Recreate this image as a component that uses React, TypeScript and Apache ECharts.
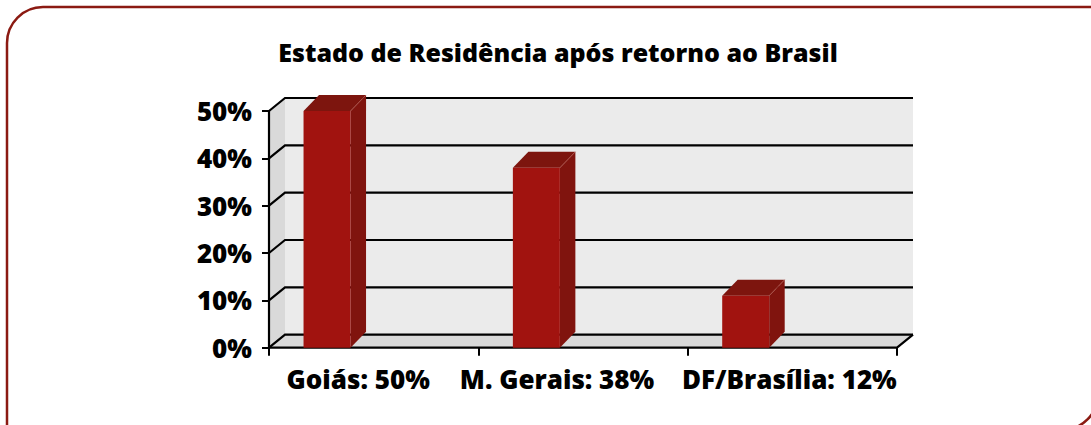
import React, { useEffect, useRef } from "react";
import * as echarts from "echarts";

const titleText = "Estado de Residência após retorno ao Brasil";
const categories = ["Goiás: 50%", "M. Gerais: 38%", "DF/Brasília: 12%"];
const values = [50, 38, 11];
const yTicks = [0, 10, 20, 30, 40, 50];

const FONT = "'Open Sans', 'Noto Sans', sans-serif";

export default function App() {
  const ref = useRef<HTMLDivElement>(null);
  useEffect(() => {
    if (!ref.current) return;
    const chart = echarts.init(ref.current, null, { renderer: "svg" });
    const WDX = 16, WDY = -13;
    const BDX = 15.5, BDY = -16;
    const labelStyle = { fontFamily: FONT, fontWeight: 800, fontSize: 26, color: "#000" };
    const option: any = {
      animation: false,
      backgroundColor: "#ffffff",
      title: {
        text: titleText,
        left: 553,
        top: 34,
        textAlign: "center",
        textStyle: { fontFamily: FONT, fontWeight: 800, fontSize: 25, color: "#000" },
      },
      graphic: [
        {
          type: "rect",
          silent: true,
          shape: { x: 7, y: 7, width: 1091, height: 423, r: [36, 0, 36, 0] },
          style: { fill: "none", stroke: "#8b1a12", lineWidth: 2.5 },
          z: 100,
        },
      ],
      grid: { left: 269, top: 111, right: 194, bottom: 77.3, containLabel: false },
      xAxis: {
        type: "category",
        data: categories,
        axisLine: { show: false },
        axisTick: { show: true, length: 8, lineStyle: { color: "#000", width: 2 } },
        axisLabel: {
          interval: 0,
          hideOverlap: false,
          margin: 18,
          verticalAlign: "top",
          ...labelStyle,
          formatter: (val: string, idx: number) => `{c${idx}|${val}}`,
          rich: {
            c0: { ...labelStyle, padding: [0, 31, 0, 0] },
            c1: { ...labelStyle, padding: [0, 52, 0, 0] },
            c2: { ...labelStyle, padding: [0, 6, 0, 0] },
          },
        },
        splitLine: { show: false },
      },
      yAxis: {
        type: "value",
        min: 0,
        max: 50,
        interval: 10,
        axisLine: { show: false },
        axisTick: { show: true, length: 7, lineStyle: { color: "#000", width: 2 } },
        axisLabel: {
          margin: 17,
          formatter: "{value}%",
          ...labelStyle,
        },
        splitLine: { show: false },
      },
      series: [
        {
          type: "custom",
          z: 1,
          silent: true,
          data: [[0, 0]],
          encode: { x: 0, y: 1 },
          renderItem: (params: any, api: any) => {
            const cs = params.coordSys;
            const x0 = cs.x, y0 = cs.y, w = cs.width, h = cs.height;
            const yB = y0 + h;
            const children: any[] = [
              {
                type: "polygon",
                shape: { points: [[x0, y0], [x0 + WDX, y0 + WDY], [x0 + WDX, yB + WDY], [x0, yB]] },
                style: { fill: "#d9d9d9" },
              },
              {
                type: "rect",
                shape: { x: x0 + WDX, y: y0 + WDY, width: w, height: h },
                style: { fill: "#ebebeb" },
              },
              {
                type: "polygon",
                shape: { points: [[x0, yB], [x0 + WDX, yB + WDY], [x0 + w + WDX, yB + WDY], [x0 + w, yB]] },
                style: { fill: "#d9d9d9" },
              },
            ];
            yTicks.forEach((v) => {
              const y = api.coord([0, v])[1];
              children.push({
                type: "polyline",
                shape: { points: [[x0, y], [x0 + WDX, y + WDY], [x0 + w + WDX, y + WDY]] },
                style: { stroke: "#000", lineWidth: 2.2, fill: "none" },
              });
            });
            children.push({
              type: "line",
              shape: { x1: x0, y1: y0 - 1, x2: x0, y2: yB + 1 },
              style: { stroke: "#000", lineWidth: 2.2 },
            });
            children.push({
              type: "polyline",
              shape: { points: [[x0 - 1, yB], [x0 + w, yB], [x0 + w + WDX, yB + WDY]] },
              style: { stroke: "#000", lineWidth: 2.2, fill: "none" },
            });
            return { type: "group", children };
          },
        },
        {
          type: "custom",
          z: 2,
          silent: true,
          data: values.map((v, i) => [i, v]),
          encode: { x: 0, y: 1 },
          renderItem: (params: any, api: any) => {
            const i = api.value(0);
            const v = api.value(1);
            const top = api.coord([i, v]);
            const base = api.coord([i, 0]);
            const band = api.size([1, 0])[0];
            const left = top[0] - 0.335 * band;
            const bw = 0.2245 * band;
            const t = top[1];
            const b = base[1];
            return {
              type: "group",
              children: [
                {
                  type: "polygon",
                  shape: { points: [[left + bw, t], [left + bw + BDX, t + BDY], [left + bw + BDX, b + BDY], [left + bw, b]] },
                  style: { fill: "#80140e" },
                },
                {
                  type: "polygon",
                  shape: { points: [[left, t], [left + BDX, t + BDY], [left + bw + BDX, t + BDY], [left + bw, t]] },
                  style: { fill: "#7d150e" },
                },
                {
                  type: "rect",
                  shape: { x: left, y: t, width: bw, height: b - t },
                  style: { fill: "#a1130f" },
                },
                {
                  type: "line",
                  shape: { x1: left + bw, y1: t, x2: left + bw + BDX, y2: t + BDY },
                  style: { stroke: "#b0554c", lineWidth: 0.8 },
                },
              ],
            };
          },
        },
      ],
    };
    chart.setOption(option);
    return () => chart.dispose();
  }, []);
  return (
    <div
      ref={ref}
      style={{ position: "absolute", left: 0, top: 0, width: 1091, height: 425, background: "#fff" }}
    />
  );
}
